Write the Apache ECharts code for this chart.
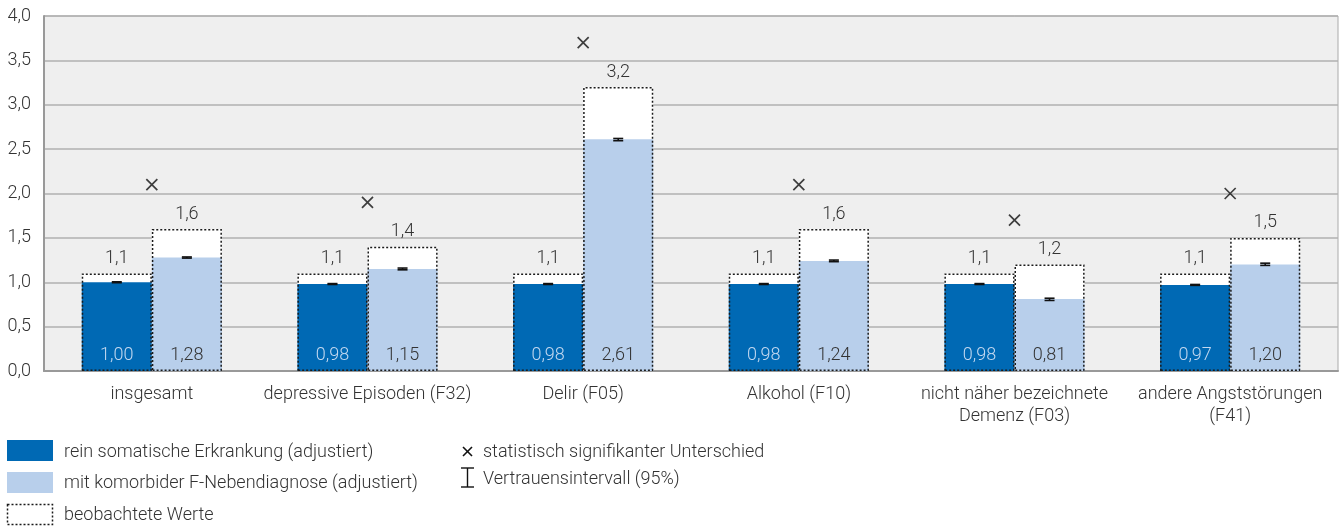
<!DOCTYPE html>
<html>
<head>
<meta charset="utf-8">
<script src="https://cdn.jsdelivr.net/npm/echarts@6/dist/echarts.min.js"></script>
<style>
  html, body { margin: 0; padding: 0; background: #fff; }
  #chart { width: 1344px; height: 526px; }
</style>
</head>
<body>
<div id="chart"></div>
<script>
  // Kategorien
  var categories = ['insgesamt', 'depressive Episoden (F32)', 'Delir (F05)', 'Alkohol (F10)',
    'nicht näher bezeichnete\nDemenz (F03)', 'andere Angststörungen\n(F41)'];
  // adjustierte Werte
  var somatic = [1.00, 0.98, 0.98, 0.98, 0.98, 0.97];
  var comorbid = [1.28, 1.15, 2.61, 1.24, 0.81, 1.20];
  // beobachtete Werte
  var observedSomatic = [1.1, 1.1, 1.1, 1.1, 1.1, 1.1];
  var observedComorbid = [1.6, 1.4, 3.2, 1.6, 1.2, 1.5];
  // Vertrauensintervall (95%)
  var ciSomaticLow = [0.995, 0.975, 0.975, 0.975, 0.975, 0.965];
  var ciSomaticHigh = [1.005, 0.985, 0.985, 0.985, 0.985, 0.975];
  var ciComorbidLow = [1.272, 1.14, 2.595, 1.232, 0.795, 1.19];
  var ciComorbidHigh = [1.285, 1.16, 2.62, 1.25, 0.82, 1.215];
  // statistisch signifikanter Unterschied (Markerposition)
  var significant = [2.1, 1.9, 3.7, 2.1, 1.7, 2.0];

  var FONT = 'Roboto, "Noto Sans", sans-serif';
  var FS = 18;
  var DARK = '#0069b4';
  var LIGHT = '#b8cfeb';
  var TXT = '#333333';
  var BAR_W = '32.5%';

  function fmt(v, d) { return v.toFixed(d).replace('.', ','); }

  var chart = echarts.init(document.getElementById('chart'));

  function catAxis(show) {
    return {
      type: 'category',
      data: categories,
      gridIndex: 0,
      show: show,
      axisTick: { show: false },
      axisLine: { show: show, lineStyle: { color: '#999', width: 2 } },
      axisLabel: {
        show: show, color: TXT, fontFamily: FONT, fontSize: FS, fontWeight: 300,
        margin: 12, lineHeight: 22, interval: 0
      }
    };
  }

  // Fehlerbalken als custom series
  function ciRender(lowArr, highArr, side) {
    return function (params, api) {
      var i = api.value(0);
      var center = api.coord([i, 0]);
      var bw = api.size([1, 0])[0] * 0.325;
      var x = center[0] + side * bw / 2;
      var pLo = api.coord([i, lowArr[i]]);
      var pHi = api.coord([i, highArr[i]]);
      var hw = 5;
      var st = { stroke: '#111', lineWidth: 1.6 };
      return {
        type: 'group',
        children: [
          { type: 'line', shape: { x1: x, y1: pLo[1], x2: x, y2: pHi[1] }, style: st },
          { type: 'line', shape: { x1: x - hw, y1: pLo[1], x2: x + hw, y2: pLo[1] }, style: st },
          { type: 'line', shape: { x1: x - hw, y1: pHi[1], x2: x + hw, y2: pHi[1] }, style: st }
        ]
      };
    };
  }

  var obsLabel = {
    show: true, position: 'top', distance: 6, color: TXT, fontFamily: FONT,
    fontSize: FS, fontWeight: 300, formatter: function (p) { return fmt(p.value, 1); }
  };
  var dotted = { color: 'rgba(0,0,0,0)', borderColor: '#1a1a1a', borderWidth: 1.5, borderType: [2, 2] };

  function legendText(x, y, s) {
    return { type: 'text', x: x, y: y,
      style: { text: s, fill: TXT, font: '300 ' + FS + 'px ' + FONT, verticalAlign: 'middle' } };
  }

  var option = {
    animation: false,
    grid: {
      left: 44, right: 6, top: 16, bottom: 155,
      show: true, backgroundColor: '#efefef', borderColor: '#aaaaaa', borderWidth: 1
    },
    xAxis: [catAxis(true), catAxis(false), catAxis(false)],
    yAxis: {
      type: 'value', min: 0, max: 4, interval: 0.5,
      axisLine: { show: true, lineStyle: { color: '#999', width: 2 } },
      axisTick: { show: false },
      splitLine: { lineStyle: { color: '#b0b0b0', width: 1.5 } },
      axisLabel: {
        color: TXT, fontFamily: FONT, fontSize: FS, fontWeight: 300, margin: 13,
        formatter: function (v) { return fmt(v, 1); }
      }
    },
    series: [
      // weiße Fläche der beobachteten Werte
      { type: 'bar', xAxisIndex: 1, data: observedSomatic, barWidth: BAR_W, barGap: 0, z: 1,
        itemStyle: { color: '#ffffff' }, silent: true },
      { type: 'bar', xAxisIndex: 1, data: observedComorbid, barWidth: BAR_W, barGap: 0, z: 1,
        itemStyle: { color: '#ffffff' }, silent: true },
      // adjustierte Werte
      { name: 'rein somatische Erkrankung (adjustiert)', type: 'bar', xAxisIndex: 0, data: somatic,
        barWidth: BAR_W, barGap: 0, z: 2, itemStyle: { color: DARK },
        label: { show: true, position: 'insideBottom', distance: 7, color: '#c2d8f0', fontFamily: FONT,
          fontSize: FS, fontWeight: 300, formatter: function (p) { return fmt(p.value, 2); } } },
      { name: 'mit komorbider F-Nebendiagnose (adjustiert)', type: 'bar', xAxisIndex: 0, data: comorbid,
        barWidth: BAR_W, barGap: 0, z: 2, itemStyle: { color: LIGHT },
        label: { show: true, position: 'insideBottom', distance: 7, color: TXT, fontFamily: FONT,
          fontSize: FS, fontWeight: 300, formatter: function (p) { return fmt(p.value, 2); } } },
      // gepunkteter Rahmen
      { name: 'beobachtete Werte', type: 'bar', xAxisIndex: 2, data: observedSomatic, barWidth: BAR_W, barGap: 0,
        z: 3, itemStyle: dotted, label: obsLabel },
      { type: 'bar', xAxisIndex: 2, data: observedComorbid, barWidth: BAR_W, barGap: 0,
        z: 3, itemStyle: dotted, label: obsLabel },
      // Fehlerbalken
      { type: 'custom', xAxisIndex: 0, z: 4, renderItem: ciRender(ciSomaticLow, ciSomaticHigh, -1),
        data: somatic.map(function (v, i) { return [i, v]; }) },
      { type: 'custom', xAxisIndex: 0, z: 4, renderItem: ciRender(ciComorbidLow, ciComorbidHigh, 1),
        data: comorbid.map(function (v, i) { return [i, v]; }) },
      // Signifikanz
      { name: 'statistisch signifikanter Unterschied', type: 'scatter', xAxisIndex: 0, z: 5,
        data: significant.map(function (v, i) { return [i, v]; }),
        symbol: 'path://M0,0L10,10M10,0L0,10', symbolSize: 11,
        itemStyle: { color: 'rgba(0,0,0,0)', borderColor: '#111', borderWidth: 1.7 } }
    ],
    graphic: [
      { type: 'rect', left: 7, top: 440, shape: { width: 46, height: 21 }, style: { fill: DARK } },
      { type: 'rect', left: 7, top: 472, shape: { width: 46, height: 21 }, style: { fill: LIGHT } },
      { type: 'rect', shape: { x: 7.5, y: 504.5, width: 45, height: 20 },
        style: { fill: 'none', stroke: '#1a1a1a', lineWidth: 1.5, lineDash: [2, 2] } },
      legendText(64, 452, 'rein somatische Erkrankung (adjustiert)'),
      legendText(64, 483, 'mit komorbider F-Nebendiagnose (adjustiert)'),
      legendText(64, 515, 'beobachtete Werte'),
      // Legende rechts
      { type: 'polyline', shape: { points: [[463, 447], [472, 456]] }, style: { stroke: '#111', lineWidth: 1.6 } },
      { type: 'polyline', shape: { points: [[472, 447], [463, 456]] }, style: { stroke: '#111', lineWidth: 1.6 } },
      legendText(483, 452, 'statistisch signifikanter Unterschied'),
      { type: 'polyline', shape: { points: [[461, 468], [474, 468]] }, style: { stroke: '#111', lineWidth: 1.4 } },
      { type: 'polyline', shape: { points: [[467.5, 468], [467.5, 487]] }, style: { stroke: '#111', lineWidth: 1.4 } },
      { type: 'polyline', shape: { points: [[461, 487], [474, 487]] }, style: { stroke: '#111', lineWidth: 1.4 } },
      legendText(483, 479, 'Vertrauensintervall (95%)')
    ]
  };

  chart.setOption(option);
</script>
</body>
</html>
